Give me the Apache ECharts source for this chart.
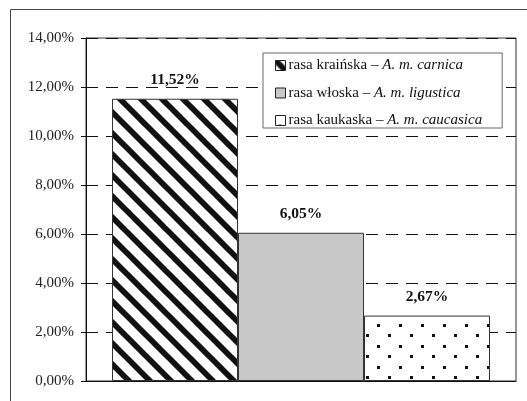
<!DOCTYPE html>
<html>
<head>
<meta charset="utf-8">
<script src="https://cdn.jsdelivr.net/npm/echarts@6/dist/echarts.min.js"></script>
<style>
  html, body { margin: 0; padding: 0; background: #fff; }
  #chart { width: 527px; height: 401px; }
</style>
</head>
<body>
<div id="chart"></div>
<script>
// Share of bees per race (percent)
const races = ['rasa kraińska', 'rasa włoska', 'rasa kaukaska'];
const latinNames = ['A. m. carnica', 'A. m. ligustica', 'A. m. caucasica'];
const shares = [11.52, 6.05, 2.67];
const yTicks = [0, 2, 4, 6, 8, 10, 12, 14];

const SERIF = "'Liberation Serif', 'Times New Roman', serif";

// Diagonal black hatching for the first bar
function stripePattern() {
  const s = 21;
  const c = document.createElement('canvas');
  c.width = s; c.height = s;
  const g = c.getContext('2d');
  g.fillStyle = '#fff';
  g.fillRect(0, 0, s, s);
  g.strokeStyle = '#111';
  g.lineWidth = 5.8;
  for (let k = -1; k <= 1; k++) {
    g.beginPath();
    g.moveTo(k * s - 2, -2);
    g.lineTo(k * s + s + 2, s + 2);
    g.stroke();
  }
  return c;
}

// Staggered dot grid for the third bar
function dotPattern() {
  const w = 22, h = 21;
  const c = document.createElement('canvas');
  c.width = w; c.height = h;
  const g = c.getContext('2d');
  g.fillStyle = '#fff';
  g.fillRect(0, 0, w, h);
  g.fillStyle = '#111';
  g.fillRect(3, 9, 3, 3);
  g.fillRect(14, 19, 3, 2);
  g.fillRect(14, 0, 3, 1);
  return c;
}

const fills = [
  { image: stripePattern(), repeat: 'repeat' },
  '#c8c8c8',
  { image: dotPattern(), repeat: 'repeat' }
];

const fmtPct = v => v.toFixed(2).replace('.', ',') + '%';

const chart = echarts.init(document.getElementById('chart'), null, { renderer: 'canvas' });

const series = races.map((name, i) => ({
  name: name,
  type: 'bar',
  data: [shares[i]],
  barWidth: 126,
  barGap: '0%',
  itemStyle: { color: fills[i], borderColor: '#333', borderWidth: 1 },
  label: {
    show: true,
    position: 'top',
    distance: 11,
    formatter: p => fmtPct(p.value),
    fontFamily: SERIF,
    fontWeight: 'bold',
    fontSize: 15.5,
    color: '#111'
  }
}));

chart.setOption({
  animation: false,
  backgroundColor: '#fff',
  graphic: [{
    type: 'rect',
    shape: { x: 10.5, y: 9.5, width: 600, height: 500 },
    style: { fill: null, stroke: '#444', lineWidth: 1 },
    z: -10
  }],
  grid: {
    left: 86, top: 38, right: 11, bottom: 20,
    show: true, borderColor: '#333', borderWidth: 1, backgroundColor: 'transparent'
  },
  legend: {
    orient: 'vertical',
    left: 263, top: 53,
    padding: [5, 20, 0, 12],
    itemWidth: 10, itemHeight: 10, itemGap: 12.5,
    icon: 'rect',
    backgroundColor: '#fff',
    borderColor: '#666', borderWidth: 1,
    itemStyle: { borderColor: '#222', borderWidth: 1 },
    formatter: name => {
      const i = races.indexOf(name);
      return '{a|' + name + ' – }{b|' + latinNames[i] + '}';
    },
    textStyle: {
      fontFamily: SERIF, fontSize: 15, color: '#111', padding: [0, 0, 0, -2],
      rich: {
        a: { fontFamily: SERIF, fontSize: 15, color: '#111', lineHeight: 18 },
        b: { fontFamily: SERIF, fontSize: 15, color: '#111', fontStyle: 'italic', lineHeight: 18 }
      }
    },
    data: races
  },
  xAxis: {
    type: 'category',
    data: [''],
    axisLine: { lineStyle: { color: '#111', width: 1 } },
    axisTick: { show: false },
    axisLabel: { show: false }
  },
  yAxis: {
    type: 'value',
    min: yTicks[0],
    max: yTicks[yTicks.length - 1],
    interval: 2,
    axisLine: { show: true, lineStyle: { color: '#111', width: 1 } },
    axisTick: { show: true, length: 5, lineStyle: { color: '#111' } },
    axisLabel: {
      formatter: v => fmtPct(v),
      fontFamily: SERIF, fontSize: 15, color: '#222', margin: 12
    },
    splitLine: { show: true, lineStyle: { color: '#111', type: [12, 8], width: 1 } }
  },
  series: series
});
</script>
</body>
</html>
